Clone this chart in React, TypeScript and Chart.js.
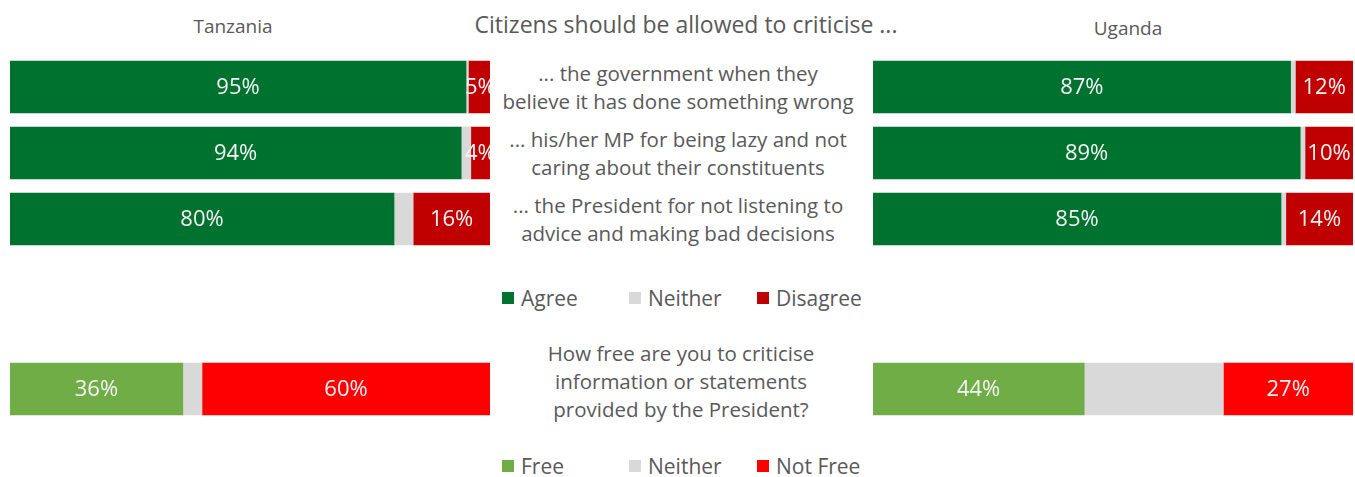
import React, { useEffect, useRef } from "react";
import { Chart, registerables } from "chart.js";

Chart.register(...registerables);

// ---------- data ----------
const questions = [
  "... the government when they believe it has done something wrong",
  "... his/her MP for being lazy and not caring about their constituents",
  "... the President for not listening to advice and making bad decisions",
];
const questionLines = [
  ["... the government when they", "believe it has done something wrong"],
  ["... his/her MP for being lazy and not", "caring about their constituents"],
  ["... the President for not listening to", "advice and making bad decisions"],
];
const topLegend = ["Agree", "Neither", "Disagree"];
const bottomLegend = ["Free", "Neither", "Not Free"];
const bottomQuestion = [
  "How free are you to criticise",
  "information or statements",
  "provided by the President?",
];

const tzAgree = [95, 94, 80];
const tzNeither = [0.5, 2, 4];
const tzDisagree = [5, 4, 16];

const ugAgree = [87, 89, 85];
const ugNeither = [1, 1, 1];
const ugDisagree = [12, 10, 14];

const tzFree = [36];
const tzFreeNeither = [4];
const tzNotFree = [60];

const ugFree = [44];
const ugFreeNeither = [29];
const ugNotFree = [27];

// ---------- style ----------
const FONT = '"Open Sans", Lato, sans-serif';
const TEXT = "#595959";
const C_AGREE = "#00722F";
const C_NEITHER = "#D9D9D9";
const C_DISAGREE = "#C00000";
const C_FREE = "#70AD47";
const C_NOTFREE = "#FF0000";

const valueLabels = {
  id: "valueLabels",
  afterDatasetsDraw(chart: any) {
    const ctx = chart.ctx;
    ctx.save();
    ctx.font = `22px ${FONT}`;
    ctx.fillStyle = "#F4F4F4";
    ctx.textAlign = "center";
    ctx.textBaseline = "middle";
    chart.data.datasets.forEach((ds: any, i: number) => {
      if (!ds.showValues) return;
      const meta = chart.getDatasetMeta(i);
      meta.data.forEach((bar: any, j: number) => {
        const p = bar.getProps(["x", "y", "base"], true);
        ctx.fillText(`${ds.data[j]}%`, (p.x + p.base) / 2, p.y + 1);
      });
    });
    ctx.restore();
  },
};

type PanelProps = {
  labels: string[];
  series: { name: string; data: number[]; color: string; showValues: boolean }[];
  left: number;
  top: number;
  height: number;
};

function BarPanel({ labels, series, left, top, height }: PanelProps) {
  const ref = useRef<HTMLCanvasElement>(null);
  useEffect(() => {
    const chart = new Chart(ref.current as HTMLCanvasElement, {
      type: "bar",
      data: {
        labels,
        datasets: series.map((s) => ({
          label: s.name,
          data: s.data,
          backgroundColor: s.color,
          borderWidth: 0,
          barThickness: 52,
          showValues: s.showValues,
        })) as any,
      },
      options: {
        indexAxis: "y",
        responsive: false,
        maintainAspectRatio: false,
        animation: false,
        layout: { padding: 0 },
        scales: {
          x: { stacked: true, min: 0, max: 100, display: false },
          y: { stacked: true, display: false },
        },
        plugins: {
          legend: { display: false },
          tooltip: { enabled: false },
        },
      },
      plugins: [valueLabels],
    });
    return () => chart.destroy();
  }, []);
  return (
    <canvas
      ref={ref}
      width={480}
      height={height}
      style={{ position: "absolute", left, top, width: 480, height }}
    />
  );
}

const textBase: React.CSSProperties = {
  position: "absolute",
  fontFamily: FONT,
  fontSize: 20.5,
  lineHeight: "28px",
  color: TEXT,
  whiteSpace: "nowrap",
  textAlign: "center",
  transform: "translateX(-50%)",
};

function Legend({ items, colors, top }: { items: string[]; colors: string[]; top: number }) {
  const sq = [502, 629, 757];
  return (
    <>
      {items.map((it, i) => (
        <React.Fragment key={it + i}>
          <div
            style={{
              position: "absolute",
              left: sq[i],
              top: top + 8,
              width: 12,
              height: 12,
              background: colors[i],
            }}
          />
          <div
            style={{
              position: "absolute",
              left: sq[i] + 19,
              top,
              fontFamily: FONT,
              fontSize: 21,
              lineHeight: "28px",
              color: TEXT,
              whiteSpace: "nowrap",
            }}
          >
            {it}
          </div>
        </React.Fragment>
      ))}
    </>
  );
}

export default function App() {
  return (
    <div
      style={{
        position: "fixed",
        left: 0,
        top: 0,
        width: 1355,
        height: 477,
        background: "#fff",
        overflow: "hidden",
      }}
    >
      <div style={{ ...textBase, left: 686, top: 10, fontSize: 23 }}>Citizens should be allowed to criticise ...</div>
      <div style={{ ...textBase, left: 233, top: 12, fontSize: 19 }}>Tanzania</div>
      <div style={{ ...textBase, left: 1128, top: 14, fontSize: 19 }}>Uganda</div>

      {questionLines.map((lines, i) => (
        <div key={i} style={{ ...textBase, left: 678, top: 59 + i * 66 }}>
          {lines.map((l, k) => (
            <div key={k}>{l}</div>
          ))}
        </div>
      ))}

      <div style={{ ...textBase, left: 681, top: 339 }}>
        {bottomQuestion.map((l, k) => (
          <div key={k}>{l}</div>
        ))}
      </div>

      <BarPanel
        labels={questions}
        left={10}
        top={54}
        height={198}
        series={[
          { name: topLegend[0], data: tzAgree, color: C_AGREE, showValues: true },
          { name: topLegend[1], data: tzNeither, color: C_NEITHER, showValues: false },
          { name: topLegend[2], data: tzDisagree, color: C_DISAGREE, showValues: true },
        ]}
      />
      <BarPanel
        labels={questions}
        left={873}
        top={54}
        height={198}
        series={[
          { name: topLegend[0], data: ugAgree, color: C_AGREE, showValues: true },
          { name: topLegend[1], data: ugNeither, color: C_NEITHER, showValues: false },
          { name: topLegend[2], data: ugDisagree, color: C_DISAGREE, showValues: true },
        ]}
      />
      <BarPanel
        labels={[bottomQuestion.join(" ")]}
        left={10}
        top={356}
        height={66}
        series={[
          { name: bottomLegend[0], data: tzFree, color: C_FREE, showValues: true },
          { name: bottomLegend[1], data: tzFreeNeither, color: C_NEITHER, showValues: false },
          { name: bottomLegend[2], data: tzNotFree, color: C_NOTFREE, showValues: true },
        ]}
      />
      <BarPanel
        labels={[bottomQuestion.join(" ")]}
        left={873}
        top={356}
        height={66}
        series={[
          { name: bottomLegend[0], data: ugFree, color: C_FREE, showValues: true },
          { name: bottomLegend[1], data: ugFreeNeither, color: C_NEITHER, showValues: false },
          { name: bottomLegend[2], data: ugNotFree, color: C_NOTFREE, showValues: true },
        ]}
      />

      <Legend items={topLegend} colors={[C_AGREE, C_NEITHER, C_DISAGREE]} top={284} />
      <Legend items={bottomLegend} colors={[C_FREE, C_NEITHER, C_NOTFREE]} top={452} />
    </div>
  );
}
